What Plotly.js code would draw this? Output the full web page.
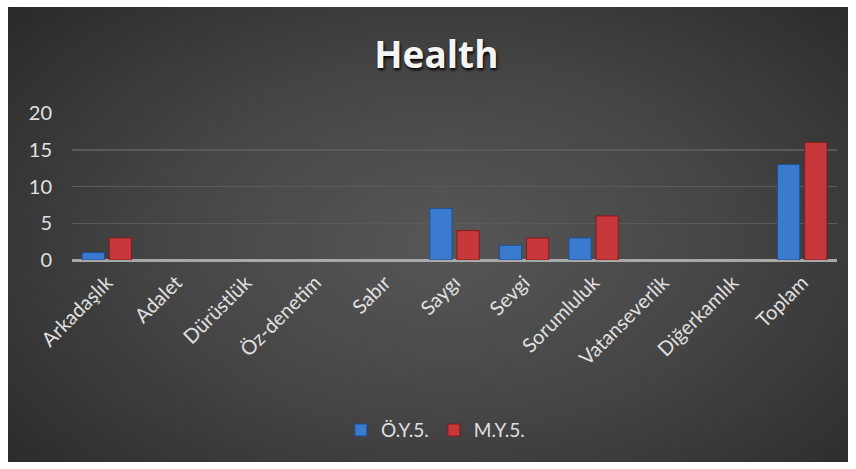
<!DOCTYPE html>
<html>
<head>
<meta charset="utf-8">
<script src="https://cdn.plot.ly/plotly-3.0.1.min.js"></script>
<style>
  html, body { margin: 0; padding: 0; background: #ffffff; }
  #frame { position: absolute; left: 8px; top: 7px; width: 840px; height: 455px;
    background: radial-gradient(ellipse 75% 85% at 52% 52%, #575757 0%, #454545 45%, #2e2e2e 85%, #262626 100%); }
  #chart { width: 840px; height: 455px; }
</style>
</head>
<body>
<div id="frame"><div id="chart"></div></div>
<script>
const categories = ["Arkadaşlık", "Adalet", "Dürüstlük", "Öz-denetim", "Sabır", "Saygı", "Sevgi", "Sorumluluk", "Vatanseverlik", "Diğerkamlık", "Toplam"];
const seriesNames = ["Ö.Y.5.", "M.Y.5."];
const oy5 = [1, 0, 0, 0, 0, 7, 2, 3, 0, 0, 13];
const my5 = [3, 0, 0, 0, 0, 4, 3, 6, 0, 0, 16];
const yTicks = [0, 5, 10, 15, 20];

const fontFam = "Lato, 'Open Sans', sans-serif";
const lw = v => v.map(d => d > 0 ? 1 : 0);

const traces = [
  { type: "bar", name: seriesNames[0], x: categories, y: oy5,
    marker: { color: "#3a7bd0", line: { color: "#1f4f8f", width: lw(oy5) } } },
  { type: "bar", name: seriesNames[1], x: categories, y: my5,
    marker: { color: "#c8373a", line: { color: "#7f1d1f", width: lw(my5) } } }
];

const layout = {
  width: 840, height: 455,
  paper_bgcolor: "rgba(0,0,0,0)", plot_bgcolor: "rgba(0,0,0,0)",
  margin: { l: 64, r: 11, t: 106, b: 202 },
  barmode: "group", bargap: 0.22, bargroupgap: 0.18,
  title: { text: "<b>Health</b>", x: 0.51, xanchor: "center", y: 0.895, yanchor: "middle",
    yref: "container",
    font: { family: "'Open Sans', sans-serif", size: 37, color: "#f4f4f4", shadow: "1px 2px 3px #000000" } },
  xaxis: { type: "category", tickangle: -45, tickfont: { family: fontFam, size: 20, color: "#e0e0e0" },
    showgrid: false, showline: false, ticks: "", zeroline: false, ticklabelstandoff: 6 },
  yaxis: { range: [0, 20], tickvals: yTicks, ticktext: yTicks.map(String),
    tickfont: { family: fontFam, size: 20, color: "#e0e0e0" },
    gridcolor: "#5a5a5a", gridwidth: 1.5, zeroline: true, zerolinecolor: "#a8a8a8", zerolinewidth: 3,
    ticklabelstandoff: 19, fixedrange: true },
  showlegend: true,
  legend: { orientation: "h", x: 0.475, xanchor: "center", yref: "container", y: 0.07, yanchor: "middle",
    font: { family: fontFam, size: 19, color: "#e0e0e0" }, bgcolor: "rgba(0,0,0,0)",
    itemwidth: 30, traceorder: "normal" }
};

Plotly.newPlot("chart", traces, layout, { displayModeBar: false, staticPlot: true });
</script>
</body>
</html>
